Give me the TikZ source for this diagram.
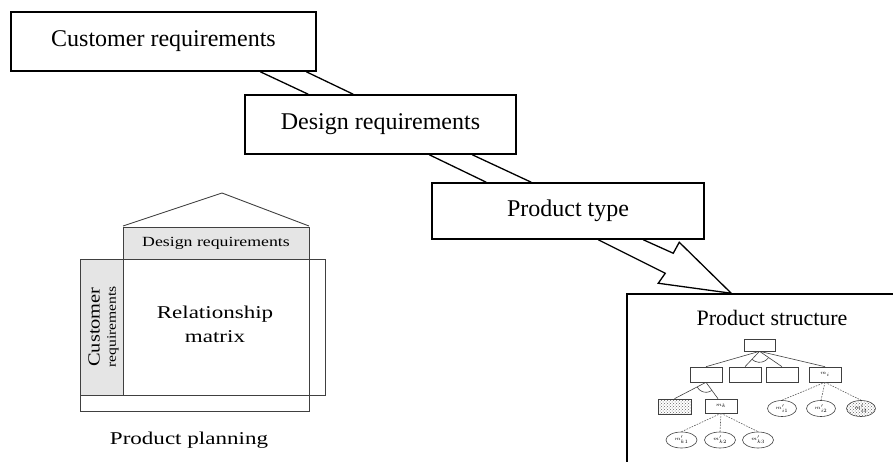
\documentclass[tikz,border=0pt]{standalone}
\usepackage{fontspec}
\setmainfont{Liberation Serif}
\usetikzlibrary{patterns,calc,shapes.geometric}
\begin{document}
\begin{tikzpicture}[x=1pt,y=-1pt,
  bigbox/.style={draw,line width=1.5pt,fill=white,inner sep=0pt,font=\fontsize{24}{26}\selectfont},
  band/.style={line width=1.3pt},
  hq/.style={draw=black!75,line width=0.9pt},
  hqfill/.style={hq,fill=black!10},
  tline/.style={draw=black!75,line width=0.6pt},
  tdash/.style={draw=black!65,line width=0.6pt,dash pattern=on 1.6pt off 1.2pt},
  tbox/.style={draw=black!75,line width=0.6pt,minimum width=32pt,minimum height=15pt,inner sep=0pt,font=\fontsize{5}{6}\selectfont},
  tell/.style={ellipse,draw=black!75,line width=0.6pt,minimum width=29pt,minimum height=16pt,inner sep=0pt,font=\fontsize{5}{6}\selectfont},
  hatch/.style={pattern=crosshatch dots,pattern color=black!60}]
\useasboundingbox (0,0) rectangle (893,462);
\clip (0,0) rectangle (893,462);

% main chain boxes
\node[bigbox,minimum width=305pt,minimum height=59pt] (cr) at (163.5,41.5) {Customer requirements};
\node[bigbox,minimum width=271pt,minimum height=59pt] (dr) at (380.5,124.5) {Design requirements};
\node[bigbox,minimum width=272pt,minimum height=56pt] (pt) at (568,211) {Product type};
\node[draw,line width=1.5pt,minimum width=290pt,minimum height=190pt,inner sep=0pt] (ps) at (772,389) {};
\node[font=\fontsize{22}{24}\selectfont] (pstitle) at (772,318) {Product structure};

% bands
\draw[band] ($(cr.south west)+(250,0)$) -- ($(dr.north west)+(64,0)$);
\draw[band] ($(cr.south west)+(296,0)$) -- ($(dr.north west)+(109,0)$);
\draw[band] ($(dr.south west)+(185,0)$) -- ($(pt.north west)+(55,0)$);
\draw[band] ($(dr.south west)+(228,0)$) -- ($(pt.north west)+(100,0)$);
% big arrow
\draw[line width=1.3pt,line join=miter]
  ($(pt.south west)+(167,0)$) -- ($(ps.north west)+(39,-20)$) -- ($(ps.north west)+(32,-10)$)
  -- ($(ps.north west)+(105,0)$) -- ($(ps.north west)+(53,-51)$) -- ($(ps.north west)+(47,-40)$)
  -- ($(pt.south west)+(212,0)$);

% house of quality
\draw[hq] (80,259) rectangle (325,395);
\draw[hq] (80,395) rectangle (309,411);
\draw[hqfill] (123,227) rectangle (309,259);
\draw[hqfill] (80,259) rectangle (123,395);
\draw[hq] (309,259) -- (309,395);
\draw[hq] (123,226) -- (222,193) -- (309,226);
\node (hdr) at (216,243) {\scalebox{1.27}[1]{\fontsize{14}{16}\selectfont Design requirements}};
\node (hrm1) at (215,314) {\scalebox{1.28}[1]{\fontsize{18}{20}\selectfont Relationship}};
\node (hrm2) at (215,337) {\scalebox{1.28}[1]{\fontsize{18}{20}\selectfont matrix}};
\node[rotate=90] (hcr1) at (94,327) {\scalebox{1.2}[1]{\fontsize{17}{19}\selectfont Customer}};
\node[rotate=90] (hcr2) at (113,327) {\scalebox{1.2}[1]{\fontsize{13}{15}\selectfont requirements}};
\node (hpp) at (189,440) {\scalebox{1.28}[1]{\fontsize{18}{20}\selectfont Product planning}};

% product structure tree
\node[tbox,minimum width=31pt,minimum height=12pt] (t0) at (759.5,345) {};
\node[tbox] (t1) at (706,374.5) {};
\node[tbox] (t2) at (745,374.5) {};
\node[tbox] (t3) at (782,374.5) {};
\node[tbox] (t4) at (825,374.5) {$m_i$};
\node[tbox,hatch,minimum width=33pt] (t5) at (674.5,406.5) {};
\node[tbox,minimum height=14pt] (t6) at (721,406) {$m_k$};
\node[tell] (e1) at (782,408.5) {$m_{i1}'$};
\node[tell] (e2) at (821,408.5) {$m_{i2}'$};
\node[tell,hatch] (e3) at (861,408.5) {$m_{i3}'$};
\node[tell,minimum width=31pt] (e4) at (681.5,440) {$m_{k1}'$};
\node[tell,minimum width=31pt] (e5) at (720,440) {$m_{k2}'$};
\node[tell,minimum width=31pt] (e6) at (758,440) {$m_{k3}'$};

\foreach \t in {t1,t2,t3,t4} \draw[tline] (t0.south) -- (\t.north);
\draw[tline] ([shift={(36:11)}]t0.south) arc[start angle=36,end angle=133,radius=11];
\draw[tline] (t1.south) -- (t5.north);
\draw[tline] (t1.south) -- ([xshift=-3pt]t6.north);
\draw[tline] ([shift={(55:10)}]t1.south) arc[start angle=55,end angle=152,radius=10];
\foreach \e in {e1,e2,e3} \draw[tdash] (t4.south) -- (\e.north);
\foreach \e in {e4,e5,e6} \draw[tdash] (t6.south) -- (\e.north);
\end{tikzpicture}
\end{document}
